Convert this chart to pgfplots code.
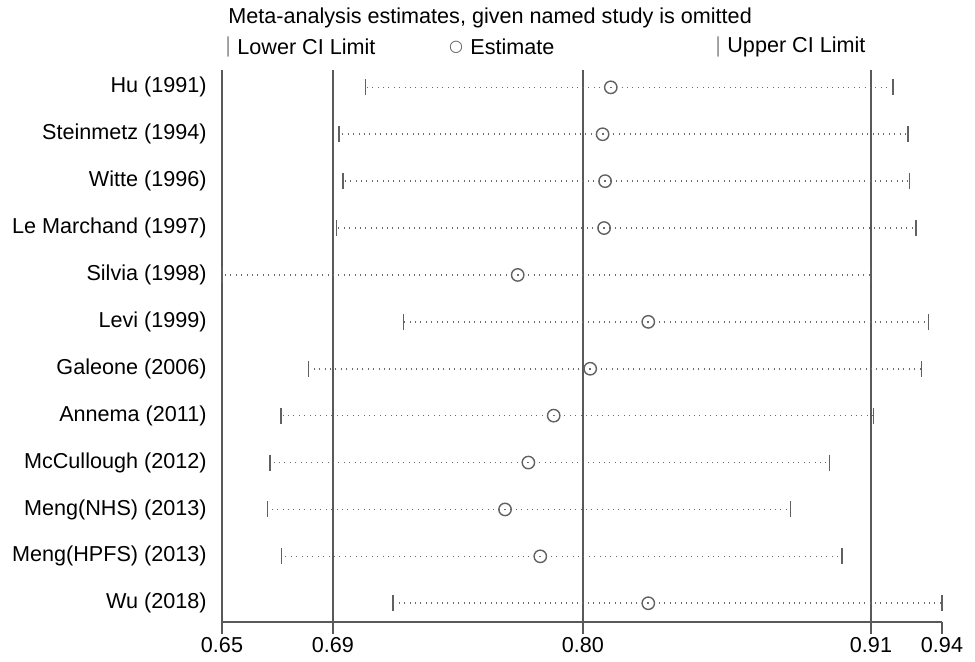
\documentclass[border=0pt]{standalone}
\usepackage{fontspec}
\setmainfont{Liberation Sans}
\newfontfamily\symfont{DejaVu Sans}
\usepackage{pgfplots}
\pgfplotsset{compat=1.18}
\usepackage{pgfplotstable}

\definecolor{axisgray}{gray}{0.35}
\definecolor{markgray}{gray}{0.38}
\definecolor{dotgray}{gray}{0.42}

% y = row (12 = top), lo / est / hi = lower CI, estimate, upper CI
\pgfplotstableread{
y  lo     est    hi
12 0.7077 0.8066 0.9203
11 0.6972 0.8033 0.9263
10 0.6987 0.8043 0.9268
9  0.6960 0.8039 0.9295
8  0.6500 0.7691 0.9112
7  0.7232 0.8217 0.9346
6  0.6848 0.7983 0.9318
5  0.6738 0.7836 0.9125
4  0.6693 0.7734 0.8946
3  0.6684 0.7640 0.8790
2  0.6740 0.7782 0.8997
1  0.7189 0.8217 0.9400
}\omitted

\begin{document}
\begin{tikzpicture}[font=\fontsize{10.8bp}{13bp}\selectfont]
\useasboundingbox (-111bp,-20bp) rectangle (376.5bp,311bp);
\begin{axis}[
    scale only axis,
    width=360bp, height=276bp,
    xmin=0.65, xmax=0.94,
    ymin=0.6, ymax=12.37,
    axis lines*=left,
    axis line style={axisgray, line width=0.6bp},
    /pgf/number format/assume math mode=true,
    xtick={0.65,0.94}, xticklabels={0.65,0.94},
    extra x ticks={0.6947,0.7954,0.9114},
    extra x tick labels={0.69,0.80,0.91},
    extra x tick style={grid=major},
    grid style={axisgray, line width=0.6bp},
    x tick style={axisgray, line width=0.6bp},
    tick align=outside,
    major tick length=6bp,
    x tick label style={inner sep=0pt, yshift=-1.5bp},
    ytick={1,...,12},
    yticklabels={Wu (2018), Meng(HPFS) (2013), Meng(NHS) (2013), McCullough (2012),
        Annema (2011), Galeone (2006), Levi (1999), Silvia (1998),
        Le Marchand (1997), Witte (1996), Steinmetz (1994), Hu (1991)},
    y tick style={draw=none},
    y tick label style={inner sep=0pt, xshift=-1.5bp},
]
% dotted CI lines
\addplot[forget plot, draw=none, mark=none,
    error bars/.cd, x dir=both, x explicit, error mark=none,
    error bar style={draw=dotgray, line width=0.8bp,
        dash pattern=on 0.5bp off 2.2bp}]
    table[x=est, y=y,
          x error plus expr=\thisrow{hi}-\thisrow{est},
          x error minus expr=\thisrow{est}-\thisrow{lo}] {\omitted};
% lower and upper limits
\addplot[only marks, mark=|, mark size=4bp,
    mark options={draw=markgray, line width=0.7bp}]
    table[x=lo, y=y] {\omitted};
\addplot[only marks, mark=|, mark size=4bp,
    mark options={draw=markgray, line width=0.7bp}]
    table[x=hi, y=y] {\omitted};
% estimates
\addplot[only marks, mark=o, mark size=3.1bp,
    mark options={draw=markgray, fill=white, line width=0.7bp}]
    table[x=est, y=y] {\omitted};
\end{axis}
\node[anchor=west, inner sep=0pt] at (3bp,302bp) {Meta-analysis estimates, given named study is omitted};
\node[anchor=west, inner sep=0pt, text=dotgray!70] at (1.5bp,287.5bp) {|};
\node[anchor=west, inner sep=0pt] at (7.5bp,287.5bp) {Lower CI Limit};
\node[inner sep=0pt, text=markgray] at (117bp,287.5bp) {\symfont\fontsize{8bp}{8bp}\selectfont ○};
\node[anchor=west, inner sep=0pt] at (124bp,287.5bp) {Estimate};
\node[anchor=west, inner sep=0pt, text=dotgray!70] at (246.5bp,287.5bp) {|};
\node[anchor=west, inner sep=0pt] at (252.5bp,287.5bp) {Upper CI Limit};
\end{tikzpicture}
\end{document}
